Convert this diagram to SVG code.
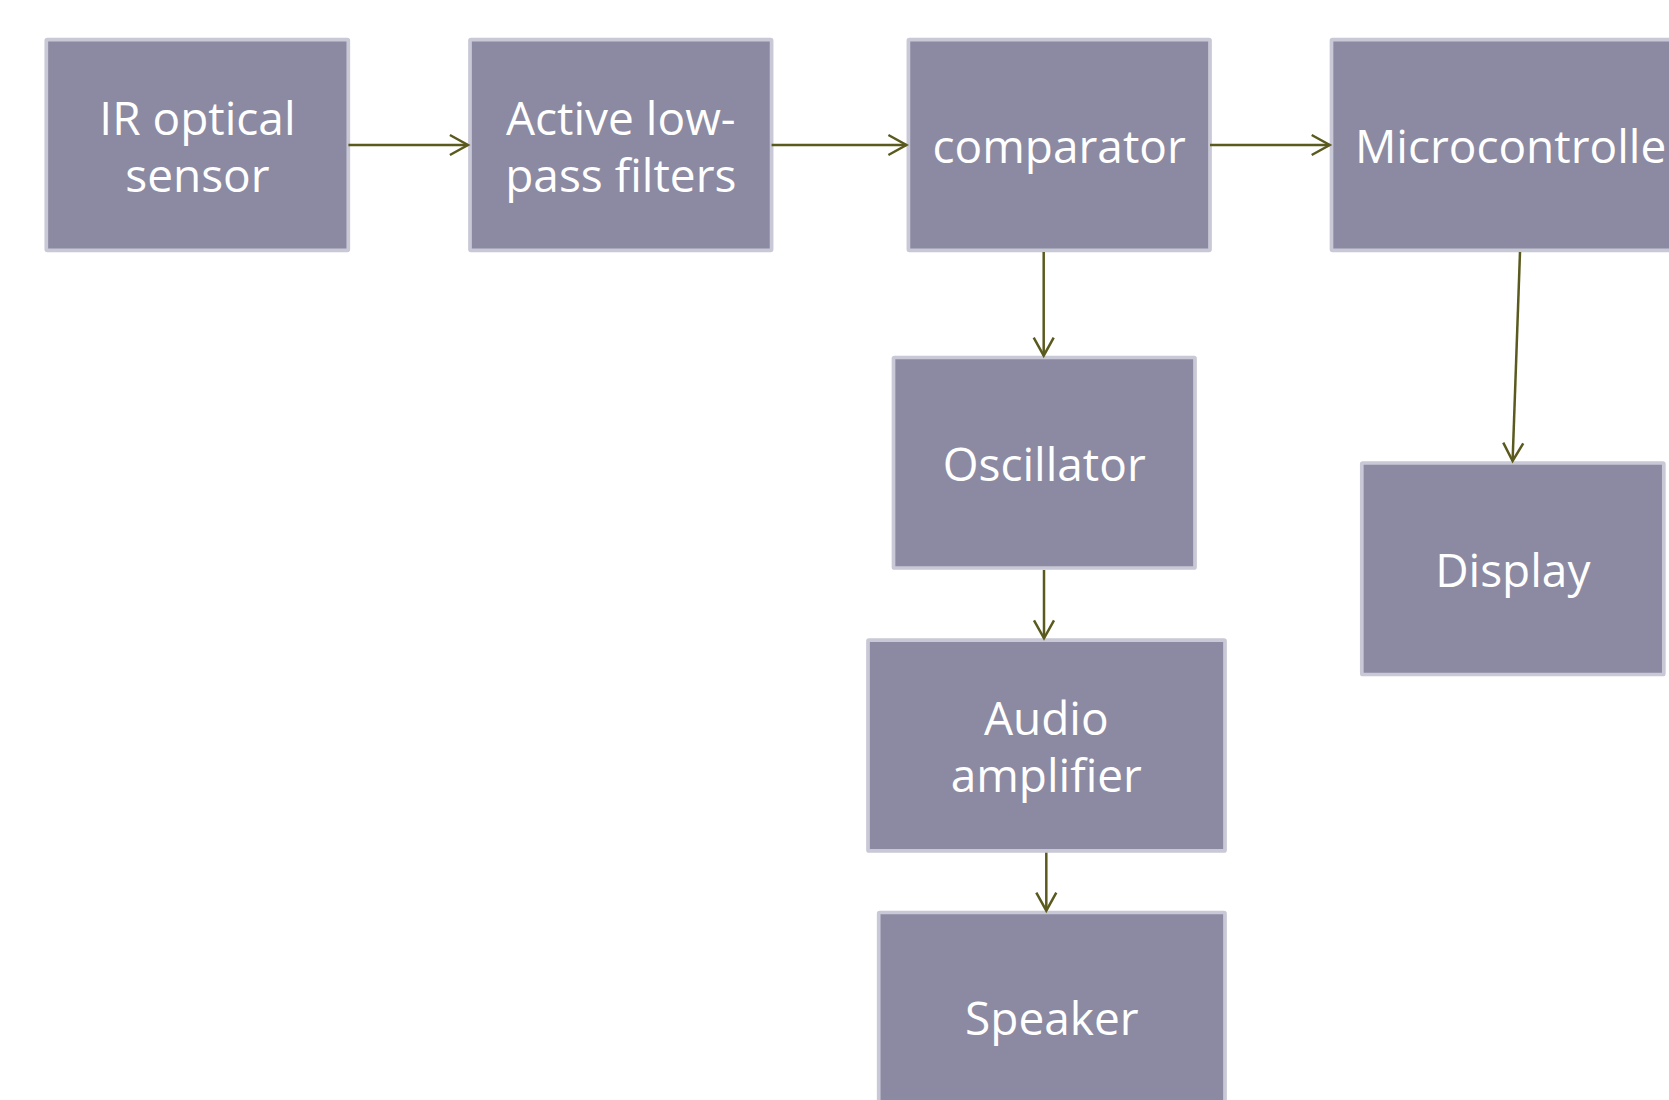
<svg xmlns="http://www.w3.org/2000/svg" width="1669" height="1100" viewBox="0 0 1669 1100">
<defs>
<style>
.box{fill:#8b8aa2;stroke:#c8c8d6;stroke-width:3.7}
.lbl{fill:#ffffff;font-family:"Open Sans","Noto Sans","DejaVu Sans",sans-serif;font-size:46px;text-anchor:middle}
.conn{stroke:#5a5a1e;stroke-width:2.5;fill:none}
</style>
<marker id="ah" markerWidth="24" markerHeight="24" refX="18" refY="10" orient="auto" markerUnits="userSpaceOnUse" overflow="visible">
<path d="M0,0 L18,10 L0,20" fill="none" stroke="#5a5a1e" stroke-width="2.5"/>
</marker>
</defs>
<rect width="1669" height="1100" fill="#ffffff"/>
<g id="n-ir">
<rect class="box" x="46.3" y="39.7" width="302" height="210.6" rx="1"/>
<text class="lbl" x="197.4" y="135">IR optical</text>
<text class="lbl" x="197.4" y="192.3">sensor</text>
</g>
<g id="n-filter">
<rect class="box" x="470" y="39.7" width="301.6" height="210.6" rx="1"/>
<text class="lbl" x="620.8" y="135">Active low-</text>
<text class="lbl" x="620.8" y="192.3">pass filters</text>
</g>
<g id="n-comparator">
<rect class="box" x="908.4" y="39.7" width="301.6" height="210.6" rx="1"/>
<text class="lbl" x="1059.2" y="163.3">comparator</text>
</g>
<g id="n-micro">
<rect class="box" x="1331.5" y="39.7" width="377" height="210.6" rx="1"/>
<text class="lbl" x="1520" y="163.3">Microcontroller</text>
</g>
<g id="n-osc">
<rect class="box" x="893.5" y="357.5" width="301.5" height="210.5" rx="1"/>
<text class="lbl" x="1044.2" y="480.7">Oscillator</text>
</g>
<g id="n-display">
<rect class="box" x="1361.8" y="463" width="302" height="211.5" rx="1"/>
<text class="lbl" x="1512.8" y="586.7">Display</text>
</g>
<g id="n-audio">
<rect class="box" x="868" y="640.2" width="357" height="210.7" rx="1"/>
<text class="lbl" x="1046.3" y="735">Audio</text>
<text class="lbl" x="1046.3" y="792.3">amplifier</text>
</g>
<g id="n-speaker">
<rect class="box" x="878.7" y="912.5" width="346.3" height="211" rx="1"/>
<text class="lbl" x="1051.8" y="1035">Speaker</text>
</g>
<g id="connectors">
<line class="conn" x1="348.4" y1="145" x2="467.9" y2="145" marker-end="url(#ah)"/>
<line class="conn" x1="771.6" y1="145" x2="906.4" y2="145" marker-end="url(#ah)"/>
<line class="conn" x1="1210" y1="145" x2="1329.7" y2="145" marker-end="url(#ah)"/>
<line class="conn" x1="1043.7" y1="252" x2="1043.7" y2="355.7" marker-end="url(#ah)"/>
<line class="conn" x1="1520" y1="252" x2="1512.6" y2="461" marker-end="url(#ah)"/>
<line class="conn" x1="1044" y1="570" x2="1044" y2="638.3" marker-end="url(#ah)"/>
<line class="conn" x1="1046.3" y1="852.7" x2="1046.3" y2="910.7" marker-end="url(#ah)"/>
</g>
</svg>
